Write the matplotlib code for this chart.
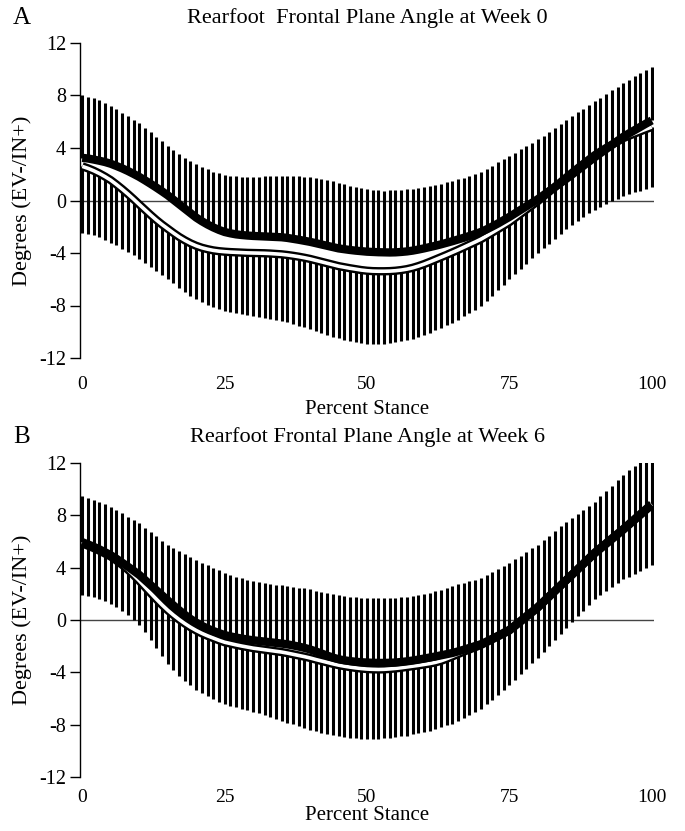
import numpy as np
import matplotlib
matplotlib.use("Agg")
import matplotlib.pyplot as plt

plt.rcParams["font.family"] = ["Liberation Serif", "DejaVu Serif"]

# percent stance, one bar per percent
pct = np.arange(0, 101)

# ---------------- Week 0 ----------------
# black curve (mean) and its +SD bar tops
a_blk = [
    3.25, 3.2, 3.12, 3.03, 2.93, 2.8, 2.63, 2.45, 2.25, 2.03,
    1.8, 1.54, 1.27, 0.99, 0.7, 0.4, 0.06, -0.28, -0.62, -0.96,
    -1.3, -1.58, -1.83, -2.05, -2.24, -2.4, -2.5, -2.58, -2.63, -2.67,
    -2.7, -2.72, -2.74, -2.76, -2.78, -2.8, -2.85, -2.92, -2.99, -3.07,
    -3.15, -3.25, -3.35, -3.45, -3.55, -3.65, -3.71, -3.77, -3.82, -3.86,
    -3.9, -3.92, -3.94, -3.95, -3.96, -3.95, -3.92, -3.88, -3.82, -3.74,
    -3.65, -3.55, -3.45, -3.34, -3.22, -3.1, -2.97, -2.84, -2.7, -2.55,
    -2.4, -2.2, -1.98, -1.75, -1.5, -1.25, -0.98, -0.71, -0.44, -0.17,
    0.1, 0.41, 0.72, 1.03, 1.34, 1.65, 1.98, 2.31, 2.64, 2.97,
    3.3, 3.61, 3.92, 4.23, 4.54, 4.85, 5.11, 5.36, 5.61, 5.86,
    6.1,
]
a_blk_hi = [
    8.05, 7.92, 7.78, 7.62, 7.43, 7.2, 6.96, 6.7, 6.43, 6.16,
    5.9, 5.55, 5.2, 4.85, 4.5, 4.15, 3.85, 3.55, 3.25, 2.98,
    2.75, 2.55, 2.37, 2.2, 2.06, 1.95, 1.89, 1.85, 1.82, 1.8,
    1.8, 1.81, 1.83, 1.85, 1.86, 1.85, 1.85, 1.84, 1.83, 1.82,
    1.8, 1.72, 1.63, 1.54, 1.45, 1.35, 1.24, 1.13, 1.02, 0.92,
    0.85, 0.8, 0.77, 0.76, 0.77, 0.8, 0.83, 0.86, 0.9, 0.95,
    1.0, 1.08, 1.17, 1.27, 1.38, 1.5, 1.62, 1.75, 1.89, 2.04,
    2.2, 2.43, 2.66, 2.9, 3.15, 3.4, 3.65, 3.9, 4.15, 4.4,
    4.65, 4.95, 5.25, 5.55, 5.85, 6.15, 6.43, 6.71, 6.99, 7.27,
    7.55, 7.83, 8.11, 8.39, 8.67, 8.95, 9.2, 9.45, 9.7, 9.95,
    10.2,
]
# white curve (mean) and its -SD bar bottoms
a_wht = [
    2.6, 2.45, 2.27, 2.06, 1.82, 1.55, 1.22, 0.87, 0.5, 0.11,
    -0.3, -0.7, -1.1, -1.48, -1.83, -2.15, -2.47, -2.77, -3.03, -3.26,
    -3.45, -3.6, -3.71, -3.8, -3.86, -3.9, -3.93, -3.95, -3.97, -3.99,
    -4.0, -4.01, -4.02, -4.04, -4.07, -4.1, -4.15, -4.21, -4.28, -4.36,
    -4.45, -4.56, -4.67, -4.78, -4.89, -5.0, -5.08, -5.16, -5.23, -5.3,
    -5.35, -5.38, -5.39, -5.39, -5.38, -5.35, -5.3, -5.23, -5.13, -5.0,
    -4.85, -4.68, -4.5, -4.32, -4.14, -3.95, -3.76, -3.56, -3.36, -3.16,
    -2.95, -2.7, -2.44, -2.18, -1.92, -1.65, -1.33, -1.01, -0.69, -0.37,
    -0.05, 0.31, 0.67, 1.03, 1.39, 1.75, 2.1, 2.45, 2.79, 3.12,
    3.45, 3.73, 4.0, 4.25, 4.5, 4.75, 4.93, 5.1, 5.27, 5.44,
    5.6,
]
a_wht_lo = [
    -2.45, -2.55, -2.66, -2.8, -2.98, -3.2, -3.42, -3.67, -3.92, -4.18,
    -4.45, -4.76, -5.07, -5.38, -5.69, -6.0, -6.32, -6.64, -6.95, -7.24,
    -7.5, -7.74, -7.95, -8.13, -8.28, -8.4, -8.5, -8.59, -8.67, -8.74,
    -8.8, -8.86, -8.93, -9.0, -9.08, -9.17, -9.28, -9.4, -9.53, -9.66,
    -9.8, -9.95, -10.1, -10.24, -10.37, -10.5, -10.62, -10.72, -10.8, -10.86,
    -10.9, -10.92, -10.92, -10.9, -10.86, -10.8, -10.72, -10.63, -10.52, -10.39,
    -10.25, -10.08, -9.9, -9.7, -9.5, -9.3, -9.07, -8.83, -8.58, -8.32,
    -8.05, -7.65, -7.24, -6.83, -6.42, -6.0, -5.6, -5.2, -4.8, -4.4,
    -4.0, -3.64, -3.28, -2.92, -2.56, -2.2, -1.88, -1.57, -1.27, -0.98,
    -0.7, -0.47, -0.25, -0.05, 0.15, 0.35, 0.49, 0.62, 0.75, 0.88,
    1.0,
]

# ---------------- Week 6 ----------------
b_blk = [
    5.95, 5.78, 5.6, 5.4, 5.18, 4.95, 4.68, 4.38, 4.08, 3.77,
    3.45, 3.06, 2.67, 2.28, 1.89, 1.5, 1.12, 0.75, 0.4, 0.08,
    -0.2, -0.44, -0.65, -0.84, -1.0, -1.15, -1.25, -1.34, -1.42, -1.49,
    -1.55, -1.6, -1.65, -1.7, -1.75, -1.8, -1.86, -1.94, -2.03, -2.13,
    -2.25, -2.4, -2.56, -2.72, -2.87, -3.0, -3.08, -3.14, -3.19, -3.23,
    -3.25, -3.27, -3.28, -3.28, -3.27, -3.25, -3.21, -3.16, -3.1, -3.03,
    -2.95, -2.87, -2.79, -2.7, -2.61, -2.52, -2.4, -2.27, -2.13, -1.99,
    -1.85, -1.65, -1.43, -1.21, -0.98, -0.75, -0.41, -0.06, 0.29, 0.64,
    1.0, 1.41, 1.82, 2.23, 2.64, 3.05, 3.46, 3.87, 4.28, 4.69,
    5.1, 5.46, 5.82, 6.18, 6.54, 6.9, 7.28, 7.66, 8.04, 8.42,
    8.8,
]
b_blk_hi = [
    9.45, 9.32, 9.18, 9.02, 8.85, 8.65, 8.42, 8.17, 7.91, 7.66,
    7.4, 7.06, 6.72, 6.39, 6.06, 5.75, 5.49, 5.25, 5.02, 4.8,
    4.6, 4.39, 4.18, 3.98, 3.79, 3.6, 3.45, 3.31, 3.18, 3.06,
    2.95, 2.88, 2.81, 2.75, 2.7, 2.65, 2.59, 2.53, 2.47, 2.41,
    2.35, 2.25, 2.15, 2.06, 1.98, 1.9, 1.84, 1.78, 1.73, 1.69,
    1.67, 1.65, 1.65, 1.66, 1.68, 1.7, 1.73, 1.77, 1.82, 1.88,
    1.95, 2.07, 2.2, 2.33, 2.46, 2.6, 2.72, 2.84, 2.96, 3.08,
    3.2, 3.43, 3.66, 3.89, 4.12, 4.35, 4.63, 4.91, 5.19, 5.47,
    5.75, 6.1, 6.45, 6.8, 7.15, 7.5, 7.81, 8.12, 8.43, 8.74,
    9.05, 9.45, 9.86, 10.27, 10.68, 11.1, 11.45, 11.8, 12.15, 12.5,
    12.8,
]
b_wht = [
    5.85, 5.68, 5.5, 5.3, 5.08, 4.85, 4.55, 4.22, 3.85, 3.44,
    3.0, 2.53, 2.06, 1.6, 1.16, 0.75, 0.38, 0.04, -0.27, -0.55,
    -0.8, -1.02, -1.21, -1.38, -1.55, -1.7, -1.8, -1.9, -1.99, -2.07,
    -2.15, -2.21, -2.27, -2.33, -2.39, -2.45, -2.53, -2.62, -2.71, -2.8,
    -2.9, -3.02, -3.13, -3.24, -3.35, -3.45, -3.53, -3.6, -3.66, -3.71,
    -3.75, -3.77, -3.78, -3.77, -3.74, -3.7, -3.65, -3.59, -3.53, -3.47,
    -3.4, -3.33, -3.24, -3.12, -2.96, -2.78, -2.6, -2.42, -2.25, -2.08,
    -1.9, -1.69, -1.47, -1.25, -1.03, -0.8, -0.45, -0.1, 0.25, 0.6,
    0.95, 1.37, 1.79, 2.21, 2.63, 3.05, 3.47, 3.89, 4.31, 4.73,
    5.15, 5.51, 5.87, 6.23, 6.59, 6.95, 7.33, 7.71, 8.09, 8.47,
    8.85,
]
b_wht_lo = [
    1.9, 1.82, 1.72, 1.6, 1.45, 1.25, 1.0, 0.7, 0.35, -0.02,
    -0.4, -0.95, -1.55, -2.15, -2.75, -3.35, -3.82, -4.25, -4.65, -5.0,
    -5.35, -5.6, -5.83, -6.04, -6.24, -6.42, -6.55, -6.67, -6.79, -6.9,
    -7.0, -7.13, -7.27, -7.41, -7.55, -7.7, -7.84, -7.98, -8.12, -8.26,
    -8.4, -8.51, -8.62, -8.72, -8.81, -8.9, -8.96, -9.01, -9.05, -9.08,
    -9.1, -9.1, -9.08, -9.05, -9.01, -8.96, -8.9, -8.83, -8.75, -8.66,
    -8.56, -8.45, -8.33, -8.2, -8.06, -7.92, -7.72, -7.5, -7.27, -7.03,
    -6.78, -6.45, -6.1, -5.74, -5.37, -5.0, -4.58, -4.16, -3.74, -3.32,
    -2.9, -2.44, -1.98, -1.52, -1.06, -0.6, -0.16, 0.28, 0.72, 1.16,
    1.6, 1.9, 2.2, 2.5, 2.8, 3.1, 3.32, 3.54, 3.76, 3.98,
    4.2,
]

titles = ["Rearfoot  Frontal Plane Angle at Week 0",
          "Rearfoot Frontal Plane Angle at Week 6"]
panel_letters = ["A", "B"]
yticks = [-12, -8, -4, 0, 4, 8, 12]
xticks = [0, 25, 50, 75, 100]

panels = [
    (a_blk, a_blk_hi, a_wht, a_wht_lo),
    (b_blk, b_blk_hi, b_wht, b_wht_lo),
]

W, H = 685, 831
fig = plt.figure(figsize=(W / 100, H / 100), dpi=100)

# axes boxes in pixels: left, top, right, bottom
boxes = [(80, 43, 654, 358), (80, 463, 654, 777)]
# title / letter centre heights in pixels
title_y = [18, 437]
# x tick pad and x label pad per panel (bottom panel sits close to the edge)
xtick_pad = [13, 9]
xlabel_pad = [5, 0]


def draw_panel(ax, blk, blk_hi, wht, wht_lo, tpad, lpad):
    blk = np.array(blk)
    wht = np.array(wht)

    # one-sided SD bars
    ax.vlines(pct, blk, blk_hi, color="black", lw=2.2, zorder=2)
    ax.vlines(pct, wht_lo, wht, color="black", lw=2.2, zorder=2)

    ax.axhline(0, color="#444444", lw=1.0, zorder=1)

    # white curve with black outline, then black curve on top
    ax.plot(pct, wht, color="black", lw=6.0, zorder=3, solid_capstyle="butt")
    ax.plot(pct, wht, color="white", lw=2.6, zorder=4, solid_capstyle="butt")
    ax.plot(pct, blk, color="black", lw=6.0, zorder=5, solid_capstyle="butt")

    ax.set_xlim(-0.4, 100.4)
    ax.set_ylim(-12, 12)
    ax.set_yticks(yticks)
    ax.set_xticks(xticks)
    ax.set_yticklabels([str(v) for v in yticks])
    ax.set_xticklabels([str(v) for v in xticks])

    for s in ["top", "right", "bottom"]:
        ax.spines[s].set_visible(False)
    ax.spines["left"].set_linewidth(1.0)

    ax.tick_params(axis="y", direction="out", length=7, width=1.0,
                   labelsize=14.5, pad=3)
    ax.tick_params(axis="x", length=0, labelsize=14, pad=tpad)

    ax.set_xlabel("Percent Stance", fontsize=15, labelpad=lpad)
    ax.set_ylabel("Degrees (EV-/IN+)", fontsize=16, labelpad=5)


for i, (l, t, r, b) in enumerate(boxes):
    ax = fig.add_axes([l / W, 1 - b / H, (r - l) / W, (b - t) / H])
    blk, blk_hi, wht, wht_lo = panels[i]
    draw_panel(ax, blk, blk_hi, wht, wht_lo, xtick_pad[i], xlabel_pad[i])
    fig.text((l + r) / 2 / W, 1 - title_y[i] / H, titles[i],
             fontsize=16, ha="center", va="center")
    fig.text(22 / W, 1 - title_y[i] / H, panel_letters[i],
             fontsize=18, ha="center", va="center")

fig.savefig("out.png", dpi=100)
